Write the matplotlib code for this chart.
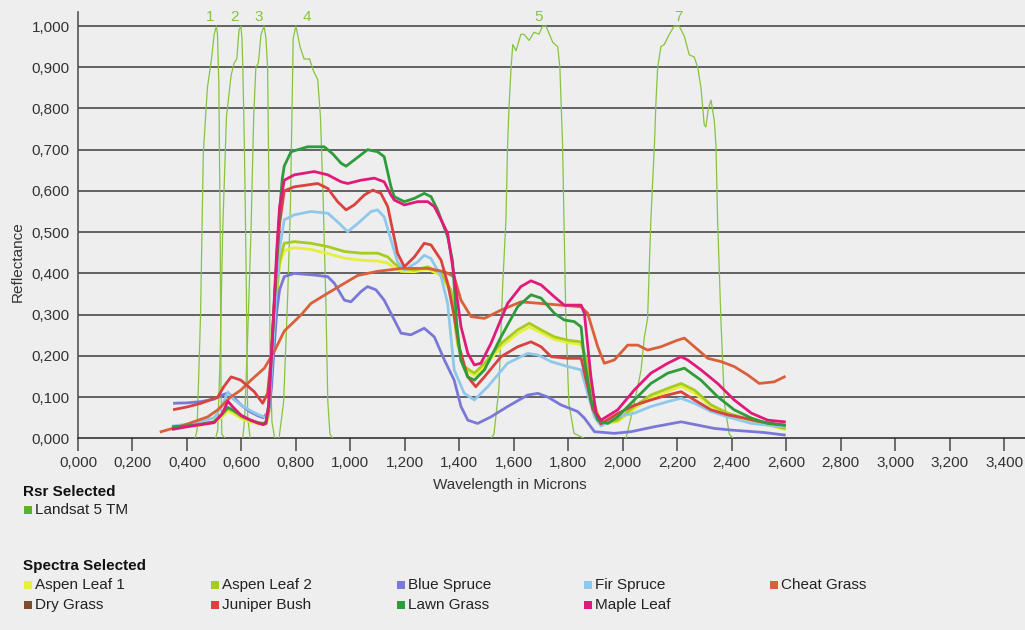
import matplotlib
matplotlib.use('Agg')
import matplotlib.pyplot as plt
from matplotlib.patches import Rectangle
from matplotlib.ticker import FixedLocator, FuncFormatter

plt.rcParams['font.family'] = ['Liberation Sans', 'DejaVu Sans']

# ---- Landsat 5 TM relative spectral response (bands 1,2,3,4,5,7) ----
band1_wl = [0.430, 0.437, 0.450, 0.460, 0.475, 0.490, 0.500, 0.508, 0.512, 0.517, 0.522, 0.525, 0.528, 0.540]
band1_rsr = [0.0, 0.02, 0.30, 0.69, 0.85, 0.92, 0.98, 1.00, 0.98, 0.86, 0.50, 0.12, 0.01, 0.0]
band2_wl = [0.505, 0.513, 0.522, 0.531, 0.545, 0.562, 0.573, 0.583, 0.591, 0.598, 0.602, 0.605, 0.611, 0.617, 0.623, 0.632]
band2_rsr = [0.0, 0.02, 0.20, 0.50, 0.78, 0.88, 0.91, 0.92, 0.99, 1.00, 0.97, 0.90, 0.70, 0.42, 0.05, 0.0]
band3_wl = [0.605, 0.612, 0.623, 0.635, 0.645, 0.653, 0.662, 0.672, 0.683, 0.690, 0.696, 0.701, 0.705, 0.712, 0.722]
band3_rsr = [0.0, 0.05, 0.25, 0.50, 0.78, 0.90, 0.91, 0.98, 1.00, 0.97, 0.90, 0.60, 0.20, 0.04, 0.0]
band4_wl = [0.725, 0.738, 0.755, 0.770, 0.780, 0.790, 0.800, 0.815, 0.830, 0.850, 0.865, 0.880, 0.890, 0.900, 0.910, 0.917, 0.925, 0.935]
band4_rsr = [0.0, 0.0, 0.09, 0.35, 0.57, 0.97, 1.00, 0.95, 0.92, 0.92, 0.89, 0.87, 0.78, 0.58, 0.33, 0.09, 0.01, 0.0]
band5_wl = [1.516, 1.527, 1.545, 1.559, 1.571, 1.577, 1.582, 1.590, 1.596, 1.608, 1.626, 1.637, 1.656, 1.674,
            1.692, 1.706, 1.718, 1.743, 1.761, 1.769, 1.779, 1.784, 1.791, 1.802, 1.821, 1.858]
band5_rsr = [0.0, 0.01, 0.12, 0.37, 0.53, 0.71, 0.80, 0.90, 0.955, 0.94, 0.98, 0.98, 0.965, 0.985,
             0.98, 1.00, 1.00, 0.96, 0.95, 0.90, 0.71, 0.53, 0.29, 0.085, 0.012, 0.0]
band7_wl = [2.012, 2.042, 2.067, 2.079, 2.091, 2.103, 2.116, 2.122, 2.128, 2.140, 2.152, 2.171, 2.189, 2.207, 2.226,
            2.244, 2.262, 2.275, 2.287, 2.299, 2.305, 2.314, 2.324, 2.336, 2.342, 2.348, 2.360, 2.373, 2.391, 2.405]
band7_rsr = [0.0, 0.085, 0.165, 0.245, 0.29, 0.53, 0.71, 0.82, 0.90, 0.95, 0.955, 0.98, 1.00, 1.00, 0.975,
             0.93, 0.925, 0.90, 0.85, 0.76, 0.755, 0.80, 0.82, 0.77, 0.71, 0.53, 0.29, 0.085, 0.01, 0.0]
band_names = ['1', '2', '3', '4', '5', '7']
band_label_wl = [0.485, 0.576, 0.664, 0.841, 1.692, 2.203]

# ---- Spectra ----
aspen_wl = [0.35, 0.40, 0.45, 0.50, 0.53, 0.55, 0.57, 0.60, 0.63, 0.66, 0.69, 0.70, 0.71, 0.72, 0.73, 0.74,
            0.757, 0.794, 0.855, 0.917, 0.978, 1.039, 1.100, 1.137, 1.161, 1.186, 1.235, 1.284, 1.333, 1.369,
            1.394, 1.418, 1.455, 1.492, 1.553, 1.614, 1.657, 1.700, 1.749, 1.798, 1.847, 1.866, 1.890, 1.920,
            1.981, 2.042, 2.103, 2.165, 2.214, 2.263, 2.324, 2.385, 2.472, 2.593]
aspen1_refl = [0.024, 0.028, 0.032, 0.038, 0.052, 0.066, 0.060, 0.048, 0.040, 0.035, 0.034, 0.055, 0.14, 0.25, 0.35, 0.42,
               0.455, 0.462, 0.458, 0.448, 0.437, 0.432, 0.430, 0.425, 0.413, 0.405, 0.404, 0.410, 0.395, 0.352,
               0.225, 0.168, 0.152, 0.174, 0.222, 0.254, 0.270, 0.256, 0.240, 0.232, 0.228, 0.185, 0.090, 0.034,
               0.040, 0.072, 0.098, 0.114, 0.126, 0.110, 0.077, 0.058, 0.041, 0.022]
aspen2_refl = [0.026, 0.030, 0.034, 0.040, 0.058, 0.072, 0.066, 0.052, 0.044, 0.038, 0.036, 0.060, 0.15, 0.26, 0.36, 0.43,
               0.473, 0.477, 0.473, 0.465, 0.453, 0.449, 0.449, 0.440, 0.424, 0.412, 0.408, 0.416, 0.400, 0.360,
               0.230, 0.174, 0.158, 0.182, 0.230, 0.263, 0.279, 0.263, 0.246, 0.238, 0.234, 0.190, 0.093, 0.036,
               0.044, 0.077, 0.105, 0.121, 0.133, 0.117, 0.081, 0.061, 0.044, 0.024]

blue_wl = [0.354, 0.40, 0.452, 0.50, 0.53, 0.55, 0.57, 0.60, 0.63, 0.66, 0.68, 0.70, 0.71, 0.72, 0.73, 0.74,
           0.757, 0.794, 0.867, 0.917, 0.941, 0.978, 1.002, 1.039, 1.063, 1.094, 1.124, 1.149, 1.186, 1.222,
           1.271, 1.308, 1.345, 1.381, 1.406, 1.431, 1.467, 1.516, 1.577, 1.651, 1.688, 1.725, 1.773, 1.834,
           1.859, 1.896, 1.969, 2.030, 2.116, 2.214, 2.275, 2.336, 2.397, 2.520, 2.593]
blue_refl = [0.085, 0.086, 0.089, 0.095, 0.105, 0.110, 0.100, 0.080, 0.065, 0.055, 0.050, 0.065, 0.12, 0.22, 0.31, 0.36,
             0.392, 0.400, 0.396, 0.392, 0.376, 0.335, 0.331, 0.356, 0.368, 0.360, 0.335, 0.303, 0.255, 0.251,
             0.267, 0.246, 0.190, 0.141, 0.077, 0.044, 0.036, 0.052, 0.077, 0.105, 0.109, 0.100, 0.081, 0.065,
             0.049, 0.016, 0.012, 0.016, 0.028, 0.040, 0.032, 0.024, 0.020, 0.014, 0.008]

fir_wl = [0.35, 0.40, 0.45, 0.50, 0.53, 0.55, 0.57, 0.60, 0.63, 0.66, 0.69, 0.70, 0.71, 0.72, 0.73, 0.74,
          0.757, 0.794, 0.855, 0.917, 0.953, 0.990, 1.027, 1.076, 1.100, 1.124, 1.149, 1.173, 1.198, 1.247,
          1.271, 1.296, 1.333, 1.357, 1.381, 1.418, 1.455, 1.504, 1.577, 1.651, 1.688, 1.737, 1.798, 1.847,
          1.871, 1.896, 1.920, 1.981, 2.042, 2.103, 2.165, 2.214, 2.263, 2.324, 2.385, 2.472, 2.593]
fir_refl = [0.030, 0.034, 0.040, 0.050, 0.080, 0.112, 0.095, 0.080, 0.068, 0.058, 0.050, 0.075, 0.16, 0.27, 0.38, 0.46,
            0.530, 0.542, 0.550, 0.546, 0.525, 0.501, 0.521, 0.550, 0.554, 0.537, 0.481, 0.428, 0.408, 0.428,
            0.444, 0.436, 0.392, 0.327, 0.166, 0.109, 0.093, 0.125, 0.182, 0.206, 0.202, 0.186, 0.174, 0.166,
            0.109, 0.052, 0.030, 0.052, 0.061, 0.077, 0.089, 0.097, 0.085, 0.065, 0.052, 0.036, 0.028]

cheat_wl = [0.305, 0.390, 0.476, 0.513, 0.560, 0.598, 0.635, 0.684, 0.720, 0.757, 0.820, 0.855, 0.917, 0.978,
            1.027, 1.100, 1.186, 1.284, 1.345, 1.381, 1.406, 1.443, 1.492, 1.553, 1.626, 1.700, 1.773, 1.847,
            1.871, 1.908, 1.932, 1.969, 2.018, 2.055, 2.091, 2.140, 2.201, 2.226, 2.263, 2.312, 2.361, 2.409,
            2.458, 2.501, 2.556, 2.593]
cheat_refl = [0.016, 0.032, 0.052, 0.069, 0.100, 0.117, 0.141, 0.170, 0.210, 0.260, 0.300, 0.327, 0.352, 0.376,
              0.395, 0.405, 0.412, 0.412, 0.404, 0.392, 0.335, 0.295, 0.291, 0.311, 0.331, 0.327, 0.323, 0.319,
              0.303, 0.222, 0.182, 0.190, 0.226, 0.226, 0.214, 0.222, 0.238, 0.243, 0.222, 0.194, 0.186, 0.174,
              0.154, 0.133, 0.137, 0.149]

juniper_wl = [0.354, 0.40, 0.452, 0.513, 0.535, 0.562, 0.598, 0.647, 0.678, 0.696, 0.71, 0.72, 0.73, 0.74,
              0.757, 0.794, 0.880, 0.917, 0.953, 0.984, 1.014, 1.051, 1.082, 1.112, 1.137, 1.155, 1.173, 1.198,
              1.235, 1.271, 1.296, 1.333, 1.357, 1.380, 1.400, 1.430, 1.460, 1.492, 1.553, 1.614, 1.663, 1.700,
              1.737, 1.798, 1.847, 1.871, 1.890, 1.920, 1.981, 2.042, 2.103, 2.165, 2.214, 2.263, 2.324, 2.385,
              2.446, 2.507, 2.593]
juniper_refl = [0.070, 0.076, 0.085, 0.100, 0.125, 0.149, 0.141, 0.113, 0.085, 0.109, 0.20, 0.32, 0.43, 0.52,
                0.600, 0.610, 0.618, 0.606, 0.574, 0.554, 0.566, 0.590, 0.602, 0.594, 0.562, 0.505, 0.449, 0.416,
                0.440, 0.473, 0.469, 0.432, 0.376, 0.300, 0.220, 0.150, 0.125, 0.149, 0.198, 0.222, 0.234, 0.222,
                0.198, 0.194, 0.194, 0.125, 0.070, 0.035, 0.060, 0.080, 0.093, 0.105, 0.113, 0.093, 0.069, 0.057,
                0.049, 0.040, 0.032]

lawn_wl = [0.35, 0.40, 0.45, 0.50, 0.53, 0.55, 0.57, 0.60, 0.63, 0.66, 0.68, 0.69, 0.70, 0.71, 0.72, 0.73, 0.74, 0.75,
           0.757, 0.782, 0.843, 0.904, 0.935, 0.966, 0.984, 1.014, 1.063, 1.100, 1.124, 1.149, 1.161, 1.198, 1.235,
           1.271, 1.296, 1.320, 1.357, 1.375, 1.390, 1.405, 1.431, 1.455, 1.492, 1.553, 1.614, 1.663, 1.700, 1.749,
           1.785, 1.822, 1.847, 1.859, 1.883, 1.908, 1.945, 1.981, 2.042, 2.103, 2.165, 2.226, 2.287, 2.348, 2.409,
           2.472, 2.532, 2.593]
lawn_refl = [0.028, 0.030, 0.034, 0.040, 0.060, 0.075, 0.068, 0.055, 0.045, 0.038, 0.035, 0.040, 0.080, 0.200, 0.320,
             0.440, 0.550, 0.630, 0.660, 0.695, 0.707, 0.707, 0.690, 0.667, 0.660, 0.675, 0.700, 0.695, 0.683, 0.610,
             0.586, 0.574, 0.582, 0.594, 0.586, 0.554, 0.489, 0.430, 0.280, 0.190, 0.149, 0.141, 0.166, 0.246, 0.319,
             0.348, 0.340, 0.303, 0.287, 0.283, 0.270, 0.190, 0.093, 0.044, 0.036, 0.052, 0.093, 0.133, 0.158, 0.170,
             0.141, 0.101, 0.069, 0.049, 0.036, 0.032]

maple_wl = [0.35, 0.40, 0.45, 0.50, 0.53, 0.55, 0.57, 0.60, 0.63, 0.66, 0.68, 0.69, 0.70, 0.71, 0.72, 0.73, 0.74,
            0.757, 0.794, 0.867, 0.917, 0.966, 0.990, 1.039, 1.088, 1.124, 1.149, 1.161, 1.198, 1.247, 1.284, 1.308,
            1.333, 1.357, 1.381, 1.406, 1.431, 1.455, 1.479, 1.516, 1.577, 1.626, 1.663, 1.700, 1.749, 1.785, 1.847,
            1.859, 1.883, 1.902, 1.920, 1.981, 2.042, 2.103, 2.165, 2.214, 2.238, 2.287, 2.348, 2.409, 2.472, 2.532,
            2.593]
maple_refl = [0.022, 0.028, 0.033, 0.038, 0.060, 0.090, 0.075, 0.055, 0.045, 0.037, 0.033, 0.036, 0.080, 0.200, 0.330,
              0.460, 0.560, 0.626, 0.639, 0.647, 0.639, 0.622, 0.618, 0.626, 0.631, 0.622, 0.590, 0.578, 0.566, 0.574,
              0.574, 0.562, 0.530, 0.497, 0.392, 0.271, 0.206, 0.178, 0.182, 0.230, 0.327, 0.368, 0.382, 0.372, 0.343,
              0.323, 0.323, 0.303, 0.149, 0.061, 0.044, 0.069, 0.117, 0.158, 0.182, 0.198, 0.190, 0.166, 0.133, 0.093,
              0.061, 0.044, 0.040]

spectra_names = ['Aspen Leaf 1', 'Aspen Leaf 2', 'Blue Spruce', 'Fir Spruce', 'Cheat Grass',
                 'Dry Grass', 'Juniper Bush', 'Lawn Grass', 'Maple Leaf']
spectra_colors = ['#e6f03c', '#a6cc1f', '#7a78d6', '#8ec8ea', '#d9603a',
                  '#7a4e2d', '#d8423f', '#2f9b3a', '#e01a7a']
landsat_color = '#86c440'
bg = '#eeeeee'

W, H = 1025, 630
fig = plt.figure(figsize=(W / 100, H / 100), dpi=100, facecolor=bg)
x0_px, y0_px, top_px = 78, 438.3, 12
ax = fig.add_axes([x0_px / W, 1 - y0_px / H, 1 - x0_px / W, (y0_px - top_px) / H])
ax.set_facecolor(bg)
ax.set_xlim(0, (W - x0_px) / 272.4)
ax.set_ylim(0, (y0_px - top_px) / 412.3)

# Landsat bands
bands = [(band1_wl, band1_rsr), (band2_wl, band2_rsr), (band3_wl, band3_rsr),
         (band4_wl, band4_rsr), (band5_wl, band5_rsr), (band7_wl, band7_rsr)]
for (wl, rsr), name, lx in zip(bands, band_names, band_label_wl):
    ax.plot(wl, rsr, color=landsat_color, lw=0.9, zorder=3)
    ax.text(lx, 1.022, name, color=landsat_color, fontsize=11, ha='center', va='center', clip_on=False)

# Spectra (Dry Grass is hidden under the others in the original)
series = [(aspen_wl, aspen1_refl), (aspen_wl, aspen2_refl), (blue_wl, blue_refl), (fir_wl, fir_refl),
          (cheat_wl, cheat_refl), None, (juniper_wl, juniper_refl), (lawn_wl, lawn_refl), (maple_wl, maple_refl)]
for s, c in zip(series, spectra_colors):
    if s is None:
        continue
    ax.plot(s[0], s[1], color=c, lw=2.0, zorder=4, solid_joinstyle='round')

# axes styling
for side in ['top', 'right']:
    ax.spines[side].set_visible(False)
ax.spines['left'].set_color('#555555')
ax.spines['bottom'].set_color('#333333')
ax.spines['left'].set_linewidth(1.2)
ax.spines['bottom'].set_linewidth(1.2)

yt = [i / 10 for i in range(11)]
xt = [i * 0.2 for i in range(18)]
ax.yaxis.set_major_locator(FixedLocator(yt))
ax.xaxis.set_major_locator(FixedLocator(xt))
fmt = FuncFormatter(lambda v, p: f'{v:.3f}'.replace('.', ','))
ax.xaxis.set_major_formatter(fmt)
ax.yaxis.set_major_formatter(fmt)
ax.tick_params(axis='y', length=0, pad=6, labelsize=11, labelcolor='#333333')
ax.tick_params(axis='x', length=9.5, width=1.2, color='#555555', pad=3, labelsize=11, labelcolor='#333333')
for v in yt[1:]:
    ax.axhline(v, color='#3c3c3c', lw=1.1, zorder=1)

fig.text(18 / W, 1 - 262 / H, 'Reflectance', rotation=90, ha='center', va='center', fontsize=11, color='#333333')
fig.text(510 / W, 1 - 485 / H, 'Wavelength in Microns', ha='center', va='center', fontsize=11, color='#333333')

# legends
def square(px, py, color):
    fig.add_artist(Rectangle((px / W, 1 - (py + 4) / H), 8 / W, 8 / H, transform=fig.transFigure,
                             facecolor=color, edgecolor='none'))

fig.text(23 / W, 1 - 492 / H, 'Rsr Selected', fontsize=11, fontweight='bold', va='center', color='#111111')
square(24, 510, '#5cb030')
fig.text(35 / W, 1 - 510 / H, 'Landsat 5 TM', fontsize=11, va='center', color='#222222')

fig.text(23 / W, 1 - 566 / H, 'Spectra Selected', fontsize=11, fontweight='bold', va='center', color='#111111')
col_px = [24, 211, 397, 584, 770]
row_px = [585, 605]
for i, (name, c) in enumerate(zip(spectra_names, spectra_colors)):
    cx = col_px[i % 5]
    cy = row_px[i // 5]
    square(cx, cy, c)
    fig.text((cx + 11) / W, 1 - cy / H, name, fontsize=11, va='center', color='#222222')

plt.savefig('out.png', dpi=100, facecolor=bg)
